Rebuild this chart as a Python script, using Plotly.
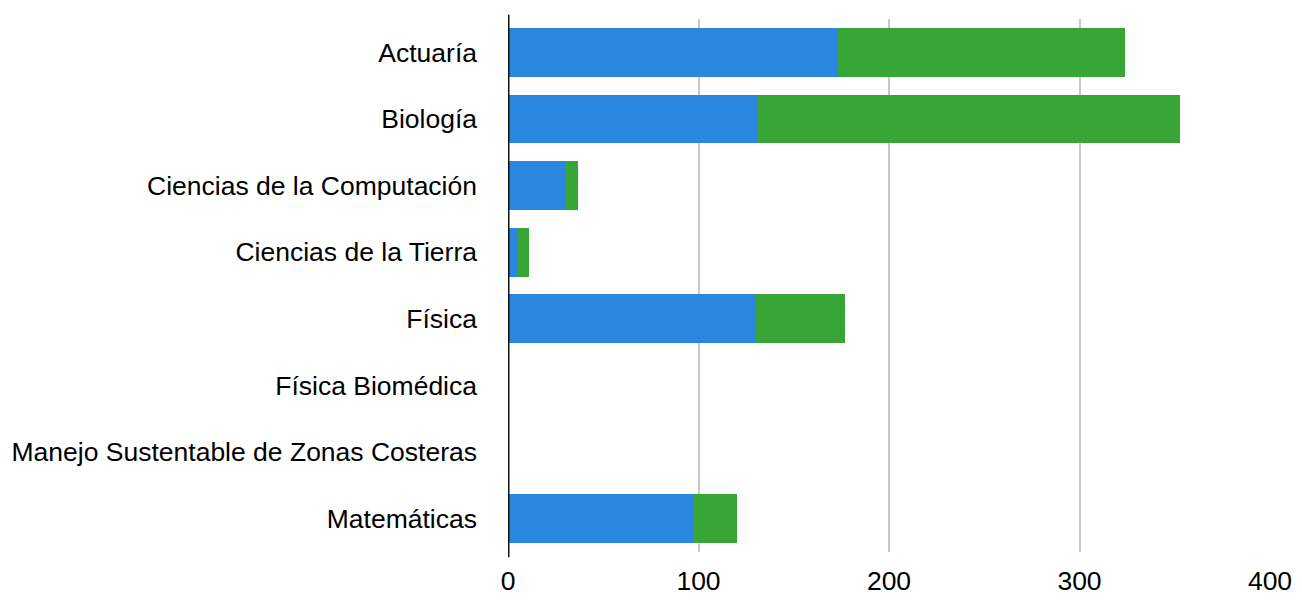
import plotly.graph_objects as go

categories = ["Actuaría", "Biología", "Ciencias de la Computación", "Ciencias de la Tierra",
              "Física", "Física Biomédica", "Manejo Sustentable de Zonas Costeras", "Matemáticas"]
serie_azul = [173, 131, 30, 5, 130, 0, 0, 97]
serie_verde = [151, 222, 7, 6, 47, 0, 0, 23]
x_ticks = [0, 100, 200, 300, 400]

fig = go.Figure()
fig.add_trace(go.Bar(y=categories, x=serie_azul, orientation="h", width=0.73,
                     marker=dict(color="#2b86e0", line=dict(width=0)), name="A"))
fig.add_trace(go.Bar(y=categories, x=serie_verde, orientation="h", width=0.73,
                     marker=dict(color="#38a537", line=dict(width=0)), name="B"))

fig.update_layout(
    barmode="stack",
    width=1294, height=600,
    margin=dict(l=500, r=32, t=11, b=56, autoexpand=False),
    plot_bgcolor="white", paper_bgcolor="white",
    showlegend=False,
    font=dict(family="Liberation Sans, Arial, sans-serif", size=26.5, color="#000000"),
    xaxis=dict(range=[0, 400], tickvals=x_ticks, ticktext=[str(v) for v in x_ticks],
               showgrid=True, gridcolor="#c8c8c8", gridwidth=1.5, zeroline=False,
               showline=False, ticks="", ticklabelstandoff=10, fixedrange=True,
               automargin=False),
    yaxis=dict(categoryorder="array", categoryarray=categories, autorange="reversed",
               showgrid=False, zeroline=False, showline=False, ticks="",
               ticklabelstandoff=30, fixedrange=True, automargin=False),
    shapes=[dict(type="line", xref="x", yref="paper", x0=0, x1=0, y0=-0.01, y1=1.008,
                 layer="above", line=dict(color="#111111", width=3))],
)
fig.write_html("out.html")
